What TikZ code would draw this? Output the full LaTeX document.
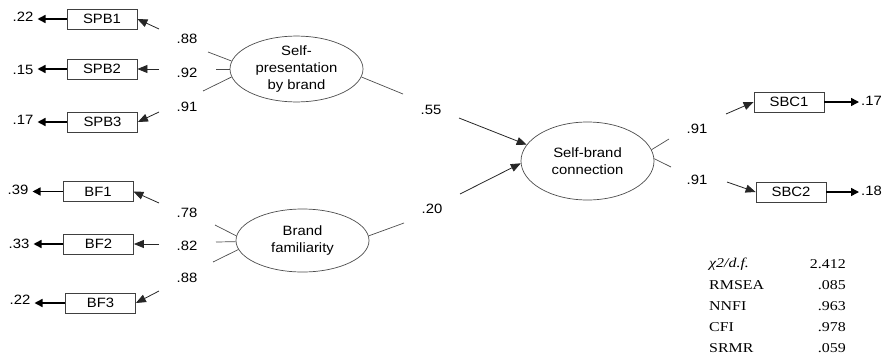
\documentclass[tikz,border=0pt]{standalone}
\usepackage{fontspec}
\setmainfont{Liberation Sans}[FakeStretch=1.1]
\newfontfamily\tabfont{Liberation Serif}[FakeStretch=1.18]
\usetikzlibrary{shapes.geometric,arrows.meta}

\begin{document}
\begin{tikzpicture}[x=1pt,y=-1pt,
  font=\fontsize{13.5}{16}\selectfont,
  obs/.style={draw=black!75,line width=0.8pt,minimum width=70pt,minimum height=20pt,inner sep=0pt},
  lat/.style={ellipse,draw=black!70,line width=0.7pt,minimum width=133pt,inner sep=0pt,align=center,font=\fontsize{13.5}{17}\selectfont},
  stub/.style={draw=black!70,line width=0.7pt},
  load/.style={draw=black!85,line width=0.8pt,-{Triangle[length=10pt,width=8pt]}},
  err/.style={draw=black,line width=1.5pt,-{Triangle[length=8pt,width=8pt]}},
  lbl/.style={inner sep=1pt},
  tab/.style={inner sep=1pt,font=\tabfont\fontsize{13.5}{15}\selectfont},
]
\useasboundingbox (0,0) rectangle (882,359);

% observed indicators
\node[obs] (spb1) at (102,19) {SPB1};
\node[obs] (spb2) at (102,69) {SPB2};
\node[obs] (spb3) at (102.5,122) {SPB3};
\node[obs] (bf1) at (98,191.5) {BF1};
\node[obs] (bf2) at (98.5,244) {BF2};
\node[obs] (bf3) at (100.5,303) {BF3};
\node[obs] (sbc1) at (789,102) {SBC1};
\node[obs] (sbc2) at (791,192) {SBC2};

% latent constructs
\node[lat,minimum height=64pt] (spb) at (296.5,69) {Self-\\presentation\\by brand};
\node[lat,minimum height=63pt] (bf) at (302.5,240.5) {Brand\\familiarity};
\node[lat,minimum height=78pt] (sbc) at (587.5,161) {Self-brand\\connection};

% error labels
\node[lbl] (e1) at (23,17) {.22};
\node[lbl] (e2) at (23,70) {.15};
\node[lbl] (e3) at (23,120) {.17};
\node[lbl] (e4) at (18,190) {.39};
\node[lbl] (e5) at (19,244) {.33};
\node[lbl] (e6) at (20,300) {.22};
\node[lbl,anchor=west] (e7) at (860,101) {.17};
\node[lbl,anchor=west] (e8) at (860,191) {.18};

\draw[err,shorten >=3pt] (spb1.west) -- (spb1.west -| e1.east);
\draw[err,shorten >=3pt] (spb2.west) -- (spb2.west -| e2.east);
\draw[err,shorten >=3pt] (spb3.west) -- (spb3.west -| e3.east);
\draw[err,shorten >=3pt] (bf1.west) -- (bf1.west -| e4.east);
\draw[err,shorten >=3pt] (bf2.west) -- (bf2.west -| e5.east);
\draw[err,shorten >=3pt] (bf3.west) -- (bf3.west -| e6.east);
\draw[err,shorten >=1pt] (sbc1.east) -- (sbc1.east -| e7.west);
\draw[err,shorten >=1pt] (sbc2.east) -- (sbc2.east -| e8.west);

% loading labels
\node[lbl] (l1) at (187,39) {.88};
\node[lbl] (l2) at (187,73) {.92};
\node[lbl] (l3) at (187,107) {.91};
\node[lbl] (l4) at (187,213) {.78};
\node[lbl] (l5) at (187,246) {.82};
\node[lbl] (l6) at (187,278) {.88};
\node[lbl] (l7) at (431,110) {.55};
\node[lbl] (l8) at (432,209) {.20};
\node[lbl] (l9) at (697,129) {.91};
\node[lbl] (l10) at (697,180) {.91};

% gap end points
\coordinate (s1) at (208,52);  \coordinate (a1) at (159,29);
\coordinate (s2) at (216,69);  \coordinate (a2) at (159,69);
\coordinate (s3) at (203,91);  \coordinate (a3) at (159,112);
\coordinate (s4) at (215,225); \coordinate (a4) at (159,203);
\coordinate (s5) at (216,242); \coordinate (a5) at (159,244);
\coordinate (s6) at (213,262); \coordinate (a6) at (159,291);
\coordinate (s7) at (403,94);  \coordinate (a7) at (459,118);
\coordinate (s8) at (404,223); \coordinate (a8) at (460,194);
\coordinate (s9) at (669,139); \coordinate (a9) at (726,114);
\coordinate (s10) at (671,167); \coordinate (a10) at (727,182);

\draw[stub] (spb.173) -- (s1);  \draw[load] (a1) -- (spb1.east);
\draw[stub] (spb.180) -- (s2);  \draw[load] (a2) -- (spb2.east);
\draw[stub] (spb.187) -- (s3);  \draw[load] (a3) -- (spb3.east);
\draw[stub] (bf.176) -- (s4);   \draw[load] (a4) -- (bf1.east);
\draw[stub] (bf.181) -- (s5);   \draw[load] (a5) -- (bf2.east);
\draw[stub] (bf.188) -- (s6);   \draw[load] (a6) -- (bf3.east);
\draw[stub] (spb.353) -- (s7);  \draw[load] (a7) -- (sbc.165);
\draw[stub] (bf.4) -- (s8);     \draw[load] (a8) -- (sbc.182);
\draw[stub] (sbc.10) -- (s9);   \draw[load] (a9) -- (sbc1.west);
\draw[stub] (sbc.2) -- (s10);   \draw[load] (a10) -- (sbc2.west);

% fit indices
\node[tab,anchor=west] (t1) at (708,264) {\itshape χ2/d.f.};
\node[tab,anchor=west] (t2) at (708,285) {RMSEA};
\node[tab,anchor=west] (t3) at (708,306) {NNFI};
\node[tab,anchor=west] (t4) at (708,327) {CFI};
\node[tab,anchor=west] (t5) at (708,348) {SRMR};
\node[tab,anchor=east] (v1) at (847,264) {2.412};
\node[tab,anchor=east] (v2) at (847,285) {.085};
\node[tab,anchor=east] (v3) at (847,306) {.963};
\node[tab,anchor=east] (v4) at (847,327) {.978};
\node[tab,anchor=east] (v5) at (847,348) {.059};
\end{tikzpicture}
\end{document}
